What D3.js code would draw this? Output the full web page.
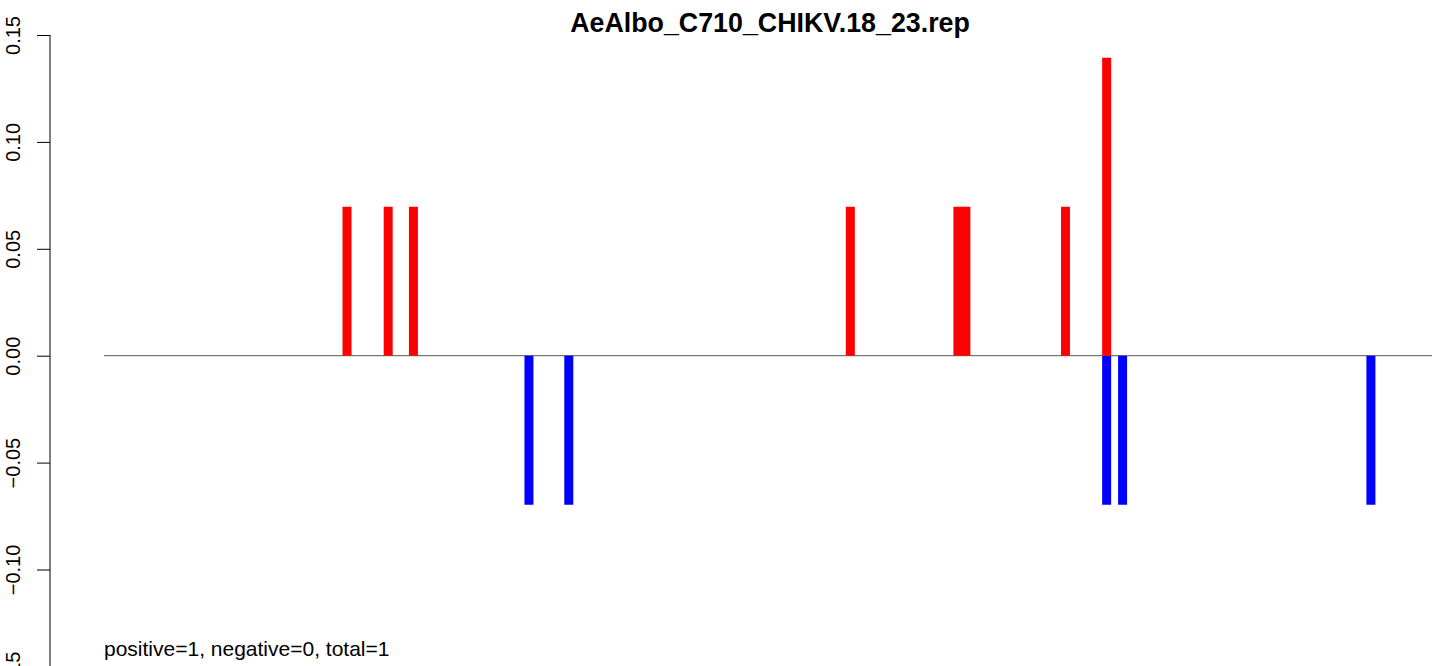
<!DOCTYPE html>
<html>
<head>
<meta charset="utf-8">
<script src="https://cdn.jsdelivr.net/npm/d3@7"></script>
<style>
  body { margin: 0; background: #fff; }
  svg { display: block; font-family: "Liberation Sans", Arial, sans-serif; }
</style>
</head>
<body>
<div id="chart"></div>
<script>
// positions along the sequence (0..1000) and their scores
const posPositions = [183, 214, 233, 562, 643, 649, 724, 755];
const posValues = [0.0697, 0.0697, 0.0697, 0.0697, 0.0697, 0.0697, 0.0697, 0.1394];
const negPositions = [320, 350, 755, 767, 954];
const negValues = [-0.0697, -0.0697, -0.0697, -0.0697, -0.0697];
const yTicks = [-0.15, -0.10, -0.05, 0.00, 0.05, 0.10, 0.15];
const xDomain = [0, 1000];
const title = "AeAlbo_C710_CHIKV.18_23.rep";
const footnote = "positive=1, negative=0, total=1";

const width = 1441, height = 666;

const svg = d3.select("#chart").append("svg")
  .attr("width", width)
  .attr("height", height);

const x = d3.scaleLinear().domain(xDomain).range([104, 1432]);
const y = d3.scaleLinear().domain([-0.15, 0.15]).range([676.4, 35]);

// zero line across the data range
svg.append("line")
  .attr("x1", x(xDomain[0]))
  .attr("x2", x(xDomain[1]))
  .attr("y1", y(0))
  .attr("y2", y(0))
  .attr("stroke", "#555")
  .attr("stroke-width", 1);

const neg = negPositions.map((p, i) => ({ pos: p, value: negValues[i] }));
const pos = posPositions.map((p, i) => ({ pos: p, value: posValues[i] }));

// negative bars first, positive on top
svg.selectAll(".neg")
  .data(neg)
  .join("line")
  .attr("class", "neg")
  .attr("x1", d => x(d.pos))
  .attr("x2", d => x(d.pos))
  .attr("y1", y(0))
  .attr("y2", d => y(d.value))
  .attr("stroke", "#0000ff")
  .attr("stroke-width", 9)
  .attr("stroke-linecap", "butt");

svg.selectAll(".pos")
  .data(pos)
  .join("line")
  .attr("class", "pos")
  .attr("x1", d => x(d.pos))
  .attr("x2", d => x(d.pos))
  .attr("y1", y(0))
  .attr("y2", d => y(d.value))
  .attr("stroke", "#ff0000")
  .attr("stroke-width", 9)
  .attr("stroke-linecap", "butt");

// left axis, R style
const yAxis = svg.append("g")
  .attr("transform", "translate(50,0)")
  .call(d3.axisLeft(y)
    .tickValues(yTicks)
    .tickSize(13)
    .tickPadding(17)
    .tickFormat(d => d3.format(".2f")(d).replace("-", "\u2212")));

yAxis.select(".domain")
  .attr("d", `M0,${y(0.15)}V${y(-0.15)}`)
  .attr("stroke", "#000");
yAxis.selectAll(".tick line").attr("stroke", "#000");
yAxis.selectAll(".tick text")
  .attr("font-size", "20px")
  .attr("fill", "#000")
  .attr("text-anchor", "middle")
  .attr("dy", 0)
  .attr("x", 0)
  .attr("transform", "translate(-30,0) rotate(-90)");

// title
svg.append("text")
  .attr("x", 770)
  .attr("y", 32)
  .attr("text-anchor", "middle")
  .attr("font-size", "26.8px")
  .attr("font-weight", "bold")
  .text(title);

// footnote
svg.append("text")
  .attr("x", 104)
  .attr("y", 656)
  .attr("font-size", "21px")
  .text(footnote);
</script>
</body>
</html>
